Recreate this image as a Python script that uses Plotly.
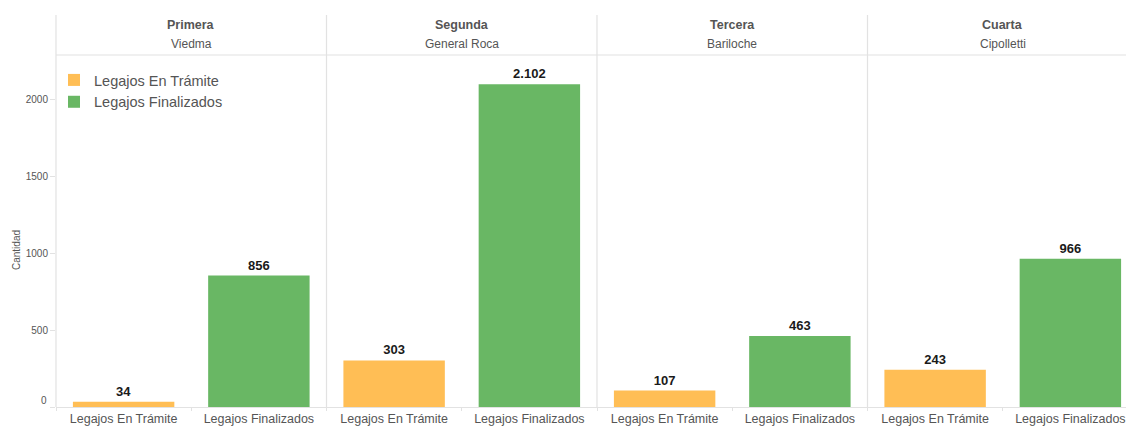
import plotly.graph_objects as go

regions = ["Primera", "Segunda", "Tercera", "Cuarta"]
cities = ["Viedma", "General Roca", "Bariloche", "Cipolletti"]
statuses = ["Legajos En Trámite", "Legajos Finalizados"]
en_tramite = [34, 303, 107, 243]
finalizados = [856, 2102, 463, 966]
y_ticks = [0, 500, 1000, 1500, 2000]
y_tick_labels = ["", "500", "1000", "1500", "2000"]

colors = {"Legajos En Trámite": "#FFBE55", "Legajos Finalizados": "#69B764"}
series = {"Legajos En Trámite": en_tramite, "Legajos Finalizados": finalizados}

W, H = 1126, 426
L, R, T, B = 56, 0, 55, 19
plot_w = W - L - R
plot_h = H - T - B
panel_px = 270.5
bounds = [0]
for i in range(1, 4):
    bounds.append(min(1.0, i * panel_px / plot_w))
bounds.append(1.0)

fig = go.Figure()
font_family = "Liberation Sans, Arial, sans-serif"
grey = "#555555"
line_col = "#E2E2E2"

for i in range(4):
    ax = "x" if i == 0 else f"x{i+1}"
    for s in statuses:
        fig.add_trace(go.Bar(
            x=[s], y=[series[s][i]], xaxis=ax, yaxis="y",
            name=s, marker_color=colors[s], marker_line_width=0,
            width=0.75, showlegend=(i == 0), legendgroup=s,
            texttemplate="%{y:,}", textposition="outside",
            textfont=dict(family=font_family, size=13, color="#1a1a1a", weight="bold"),
            cliponaxis=False, hoverinfo="skip",
        ))
    dom = [bounds[i], bounds[i + 1]]
    width_px = (dom[1] - dom[0]) * plot_w
    rng = [-0.5, -0.5 + 2 * width_px / panel_px]
    axdef = dict(
        domain=dom, anchor="y", type="category",
        categoryorder="array", categoryarray=statuses,
        range=rng, showgrid=False, zeroline=False, automargin=False,
        showline=True, linecolor=line_col, linewidth=1,
        ticks="outside", tickson="boundaries", ticklen=3, tickcolor=line_col,
        tickfont=dict(family=font_family, size=12.5, color=grey),
        fixedrange=True,
    )
    key = "xaxis" if i == 0 else f"xaxis{i+1}"
    fig.layout[key] = axdef

top_val = 2293
fig.update_layout(
    width=W, height=H,
    margin=dict(l=L, r=R, t=T, b=B, pad=0, autoexpand=False),
    paper_bgcolor="white", plot_bgcolor="white",
    template="none",
    barmode="overlay",
    separators=",.",
    font=dict(family=font_family, color=grey),
    yaxis=dict(
        range=[0, top_val], tickvals=y_ticks, ticktext=y_tick_labels,
        showgrid=False, zeroline=False,
        showline=False, ticks="outside", ticklen=5, tickcolor=line_col,
        tickfont=dict(family=font_family, size=10, color=grey),
        automargin=False, anchor="x", fixedrange=True,
    ),
    legend=dict(
        x=(54 - L) / plot_w, y=1 - (64 - T) / plot_h, xanchor="left", yanchor="top",
        font=dict(family=font_family, size=14.5, color=grey),
        bgcolor="rgba(0,0,0,0)", itemwidth=30, tracegroupgap=0,
        itemsizing="constant", borderwidth=0,
    ),
    showlegend=True,
)

header_top = 1 + (T - 15) / plot_h
shapes = []
for b in bounds[:-1]:
    shapes.append(dict(type="line", xref="paper", yref="paper", x0=b, x1=b,
                       y0=0, y1=header_top, line=dict(color=line_col, width=1.2)))
shapes.append(dict(type="line", xref="paper", yref="paper", x0=0, x1=1,
                   y0=1, y1=1, line=dict(color=line_col, width=1.2)))
fig.update_layout(shapes=shapes)

annotations = []
for i in range(4):
    cx = bounds[i] + panel_px / plot_w / 2
    annotations.append(dict(xref="paper", yref="paper", x=cx, y=1 + (T - 25) / plot_h,
                            text=f"<b>{regions[i]}</b>", showarrow=False,
                            xanchor="center", yanchor="middle",
                            font=dict(family=font_family, size=12.5, color=grey)))
    annotations.append(dict(xref="paper", yref="paper", x=cx, y=1 + (T - 44) / plot_h,
                            text=cities[i], showarrow=False,
                            xanchor="center", yanchor="middle",
                            font=dict(family=font_family, size=12, color=grey)))
annotations.append(dict(xref="paper", yref="paper", x=(16 - L) / plot_w,
                        y=1 - (250 - T) / plot_h, text="Cantidad", textangle=-90,
                        showarrow=False, xanchor="center", yanchor="middle",
                        font=dict(family=font_family, size=10, color=grey)))
annotations.append(dict(xref="paper", yref="y", x=(49 - L) / plot_w, y=y_ticks[0],
                        text=str(y_ticks[0]), showarrow=False, xanchor="right",
                        yanchor="middle", yshift=7,
                        font=dict(family=font_family, size=10, color=grey)))
fig.update_layout(annotations=annotations)

fig.write_html("out.html", config={"displayModeBar": False},
               post_script="document.body.style.margin='0';document.body.style.overflow='hidden';")
